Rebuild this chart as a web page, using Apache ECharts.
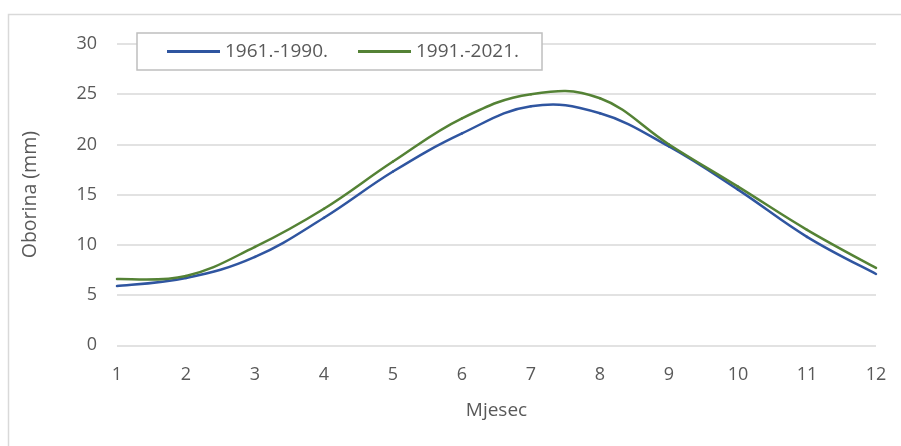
<!DOCTYPE html>
<html>
<head>
<meta charset="utf-8">
<script src="https://cdn.jsdelivr.net/npm/echarts@6/dist/echarts.min.js"></script>
<style>
html,body{margin:0;padding:0;background:#fff;}
#c{width:901px;height:446px;}
</style>
</head>
<body>
<div id="c"></div>
<script>
const months = [1,2,3,4,5,6,7,8,9,10,11,12];
const seriesNames = ['1961.-1990.', '1991.-2021.'];
const values1961 = [5.9, 6.7, 8.8, 12.7, 17.3, 21.1, 23.8, 23.1, 19.8, 15.5, 10.8, 7.1];
const values1991 = [6.6, 6.9, 9.8, 13.6, 18.3, 22.6, 25.0, 24.6, 20.0, 15.8, 11.5, 7.7];
const yTicks = [0, 5, 10, 15, 20, 25, 30];
const xName = 'Mjesec';
const yName = 'Oborina (mm)';

const font = 'Open Sans';
const colors = ['#2f55a0', '#548235'];
const chart = echarts.init(document.getElementById('c'), null, {renderer: 'canvas'});
const pairs = v => months.map((m, i) => [m, v[i]]);

// Excel-like smoothed line drawn segment by segment through the axis scales
function splineRenderer(vals, color) {
  const T = 0.2;
  return function (params, api) {
    const i = params.dataIndex;
    const n = months.length;
    if (i >= n - 1) return null;
    const c = j => api.coord([months[Math.max(0, Math.min(n - 1, j))], vals[Math.max(0, Math.min(n - 1, j))]]);
    const p0 = c(i - 1), p1 = c(i), p2 = c(i + 1), p3 = c(i + 2);
    return {
      type: 'bezierCurve',
      shape: {
        x1: p1[0], y1: p1[1], x2: p2[0], y2: p2[1],
        cpx1: p1[0] + (p2[0] - p0[0]) * T, cpy1: p1[1] + (p2[1] - p0[1]) * T,
        cpx2: p2[0] - (p3[0] - p1[0]) * T, cpy2: p2[1] - (p3[1] - p1[1]) * T
      },
      style: {stroke: color, lineWidth: 2.5, fill: null, lineCap: 'round'}
    };
  };
}

chart.setOption({
  animation: false,
  backgroundColor: '#fff',
  color: colors,
  textStyle: {fontFamily: font},
  graphic: [{
    type: 'rect', z: -10, silent: true,
    shape: {x: 8.5, y: 14.5, width: 900, height: 440},
    style: {fill: 'none', stroke: '#d9d9d9', lineWidth: 1.5}
  }],
  grid: {left: 117, right: 25, top: 44, bottom: 100.7, containLabel: false},
  legend: {
    left: 137, top: 33,
    padding: [9, 23, 9, 30],
    backgroundColor: '#fff',
    borderColor: '#bfbfbf', borderWidth: 1.5,
    icon: 'rect', itemWidth: 53, itemHeight: 3, itemGap: 30,
    textStyle: {fontFamily: font, fontSize: 19, color: '#595959'},
    data: seriesNames
  },
  xAxis: {
    type: 'value', min: 1, max: 12, interval: 1,
    name: xName, nameLocation: 'middle', nameGap: 56,
    nameTextStyle: {fontFamily: font, fontSize: 19, color: '#595959'},
    axisLine: {show: false}, axisTick: {show: false}, splitLine: {show: false},
    axisLabel: {fontFamily: font, fontSize: 18, color: '#595959', margin: 21}
  },
  yAxis: {
    type: 'value', min: yTicks[0], max: yTicks[yTicks.length-1], interval: 5,
    name: yName, nameLocation: 'middle', nameGap: 77, nameRotate: 90,
    nameTextStyle: {fontFamily: font, fontSize: 19.5, color: '#595959'},
    axisLine: {show: false}, axisTick: {show: false},
    splitLine: {lineStyle: {color: '#d9d9d9', width: 1.5}},
    axisLabel: {fontFamily: font, fontSize: 18, color: '#595959', margin: 20}
  },
  series: [
    {name: seriesNames[0], type: 'custom', data: pairs(values1961), encode: {x: 0, y: 1},
     renderItem: splineRenderer(values1961, colors[0]), itemStyle: {color: colors[0]}},
    {name: seriesNames[1], type: 'custom', data: pairs(values1991), encode: {x: 0, y: 1},
     renderItem: splineRenderer(values1991, colors[1]), itemStyle: {color: colors[1]}}
  ]
});
</script>
</body>
</html>
